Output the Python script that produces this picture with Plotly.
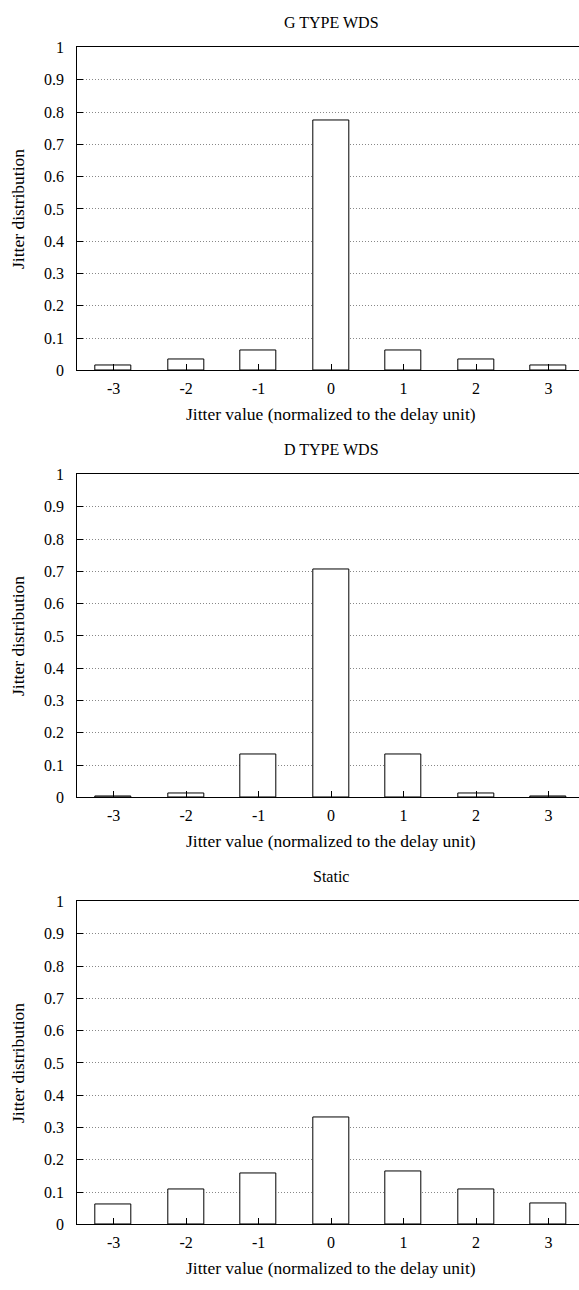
import plotly.graph_objects as go

jitter_values = [-3, -2, -1, 0, 1, 2, 3]
g_type_wds = [0.017, 0.033, 0.061, 0.775, 0.061, 0.033, 0.017]
d_type_wds = [0.002, 0.013, 0.134, 0.705, 0.134, 0.013, 0.002]
static_vals = [0.063, 0.107, 0.159, 0.330, 0.164, 0.107, 0.065]
titles = ["G TYPE WDS", "D TYPE WDS", "Static"]
series = [g_type_wds, d_type_wds, static_vals]
y_ticks = [0, 0.1, 0.2, 0.3, 0.4, 0.5, 0.6, 0.7, 0.8, 0.9, 1]
y_tick_text = ["0", "0.1", "0.2", "0.3", "0.4", "0.5", "0.6", "0.7", "0.8", "0.9", "1"]

W, H = 579, 1290
FONT = "Liberation Serif"
FS = 16
FS_AX = 17.5
left_px = 77.3
px_per_unit = 72.5
x_right = -3.5 + (W - left_px) / px_per_unit
panel_step = 432.7
top0, zero0 = 40.0, 367.3

fig = go.Figure()
annotations = []
for i, (vals, title) in enumerate(zip(series, titles)):
    n = "" if i == 0 else str(i + 1)
    top = top0 + panel_step * i
    zero = zero0 + panel_step * i
    fig.add_trace(go.Bar(
        x=jitter_values, y=vals, width=0.5,
        marker=dict(color="white", line=dict(color="black", width=1)),
        xaxis="x" + n, yaxis="y" + n, showlegend=False,
    ))
    fig.layout["xaxis" + n] = dict(
        domain=[left_px / W, 1], range=[-3.5, x_right], anchor="y" + n,
        tickvals=jitter_values, ticktext=[str(v) for v in jitter_values],
        ticks="inside", ticklen=6, tickcolor="black",
        showline=True, linecolor="black", linewidth=1, mirror=True,
        showgrid=False, zeroline=False, ticklabelstandoff=3,
        tickfont=dict(family=FONT, size=FS, color="black"),
    )
    fig.layout["yaxis" + n] = dict(
        domain=[1 - zero / H, 1 - top / H], range=[0, 1], anchor="x" + n,
        tickvals=y_ticks, ticktext=y_tick_text,
        ticks="inside", ticklen=6, tickcolor="black",
        showline=True, linecolor="black", linewidth=1, mirror=False,
        showgrid=True, gridcolor="#888888", griddash="1px,2px", gridwidth=1,
        zeroline=False, ticklabelstandoff=9,
        tickfont=dict(family=FONT, size=FS, color="black"),
    )
    cx = (left_px + 3.5 * px_per_unit) / W
    annotations.append(dict(text=title, x=cx, y=1 - (top - 25) / H, xref="paper", yref="paper",
                            showarrow=False, xanchor="center", yanchor="middle",
                            font=dict(family=FONT, size=FS, color="black")))
    annotations.append(dict(text="Jitter value (normalized to the delay unit)", x=cx,
                            y=1 - (zero + 44) / H, xref="paper", yref="paper",
                            showarrow=False, xanchor="center", yanchor="middle",
                            font=dict(family=FONT, size=FS_AX, color="black")))
    annotations.append(dict(text="Jitter distribution", x=18 / W, y=1 - (top + zero) / 2 / H,
                            xref="paper", yref="paper", textangle=-90,
                            showarrow=False, xanchor="center", yanchor="middle",
                            font=dict(family=FONT, size=FS_AX, color="black")))

fig.update_layout(
    width=W, height=H, margin=dict(l=0, r=0, t=0, b=0),
    paper_bgcolor="white", plot_bgcolor="white",
    annotations=annotations, bargap=0,
    font=dict(family=FONT, color="black"),
)
fig.write_html("out.html")
